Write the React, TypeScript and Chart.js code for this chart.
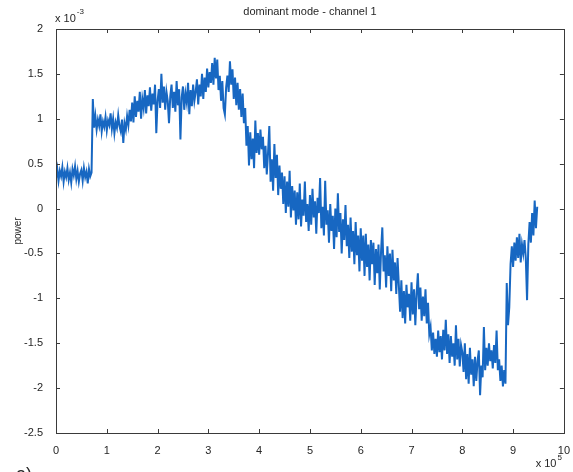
import React, { useEffect, useRef } from "react";
import { Chart, registerables } from "chart.js";

Chart.register(...registerables);

// ---- chart data ----
const chartTitle = "dominant mode - channel 1";
const yAxisLabel = "power";
const xExponent = "5"; // x axis values are x 10^5
const yExponent = "-3"; // y axis values are x 10^-3
const sampleStep = 0.025; // spacing of samples, in units of 10^5

const xTickValues = [0, 1, 2, 3, 4, 5, 6, 7, 8, 9, 10];
const yTickValues = [-2.5, -2, -1.5, -1, -0.5, 0, 0.5, 1, 1.5, 2];

// power, in units of 10^-3, one value every sampleStep
const powerValues = [
  0.34, 0.44, 0.31, 0.42, 0.36, 0.46, 0.30, 0.41, 0.35, 0.45,
  0.32, 0.40, 0.29, 0.44, 0.37, 0.47, 0.33, 0.42, 0.30, 0.39,
  0.43, 0.31, 0.45, 0.35, 0.41, 0.28, 0.44, 0.36, 0.40, 1.22,
  0.90, 1.03, 0.88, 0.99, 0.92, 1.05, 0.86, 0.97, 0.91, 1.02,
  0.87, 0.98, 0.93, 1.06, 0.89, 1.00, 0.84, 0.96, 0.90, 1.04,
  0.92, 0.86, 0.99, 0.73, 0.95, 0.88, 1.03, 0.93, 1.10, 0.97,
  1.18, 0.96, 1.25, 1.02, 1.20, 1.08, 1.30, 1.00, 1.22, 1.12,
  1.32, 1.06, 1.26, 1.14, 1.35, 1.09, 1.28, 1.16, 1.38, 0.84,
  1.20, 1.33, 1.12, 1.50, 1.18, 1.36, 1.10, 1.30, 1.20, 0.95,
  1.25, 1.38, 1.12, 1.30, 1.08, 1.42, 1.15, 1.33, 0.77, 1.24,
  1.36, 1.10, 1.28, 1.18, 1.40, 1.05, 1.32, 1.14, 1.38, 1.20,
  1.30, 1.44, 1.16, 1.38, 1.25, 1.50, 1.22, 1.46, 1.30, 1.56,
  1.35, 1.52, 1.40, 1.62, 1.38, 1.68, 1.45, 1.66, 1.32, 1.48,
  1.20, 1.42, 1.12, 1.05, 1.35, 1.48, 1.30, 1.64, 1.38, 1.55,
  1.22, 1.46, 1.15, 1.40, 1.10, 1.33, 1.02, 1.28, 0.95, 1.12,
  0.70, 0.92, 0.48, 0.85, 0.55, 0.78, 0.45, 0.98, 0.62, 0.84,
  0.60, 0.88, 0.66, 0.80, 0.45, 0.70, 0.38, 0.62, 0.92, 0.30,
  0.55, 0.20, 0.72, 0.34, 0.60, 0.15, 0.48, 0.22, 0.40, 0.05,
  0.36, -0.05, 0.30, 0.02, 0.42, -0.10, 0.25, -0.02, 0.20, -0.18,
  0.18, -0.12, 0.28, -0.20, 0.10, -0.08, 0.30, -0.15, 0.05, -0.25,
  0.15, -0.18, 0.22, -0.10, 0.08, -0.28, 0.12, -0.05, 0.34, -0.22,
  0.02, -0.30, 0.31, -0.18, -0.02, -0.38, 0.05, -0.25, -0.08, -0.45,
  0.00, -0.32, 0.17, -0.26, -0.05, -0.50, -0.12, -0.35, 0.04, -0.42,
  -0.18, -0.55, -0.10, -0.48, -0.25, -0.62, -0.15, -0.52, -0.30, -0.70,
  -0.22, -0.58, -0.30, -0.75, -0.28, -0.65, -0.40, -0.80, -0.35, -0.62,
  -0.38, -0.85, -0.45, -0.72, -0.40, -0.90, -0.48, -0.21, -0.70, -0.52,
  -0.88, -0.42, -0.75, -0.50, -0.92, -0.46, -0.80, -0.60, -0.95, -0.55,
  -0.85, -1.15, -0.80, -1.22, -0.92, -1.28, -0.85, -1.10, -0.95, -1.25,
  -0.82, -1.18, -0.90, -1.30, -0.95, -0.72, -1.12, -0.88, -1.25, -0.98,
  -1.20, -0.90, -1.28, -1.05, -1.40, -1.32, -1.58, -1.38, -1.62, -1.45,
  -1.65, -1.36, -1.60, -1.42, -1.68, -1.35, -1.58, -1.24, -1.62, -1.40,
  -1.72, -1.42, -1.65, -1.50, -1.75, -1.30, -1.68, -1.45, -1.76, -1.52,
  -1.60, -1.82, -1.50, -1.90, -1.62, -1.95, -1.55, -1.85, -1.68, -1.98,
  -1.65, -1.92, -1.70, -1.58, -2.08, -1.75, -1.88, -1.32, -1.80, -1.55,
  -1.75, -1.50, -1.70, -1.58, -1.78, -1.52, -1.72, -1.36, -1.80, -1.68,
  -1.92, -1.75, -1.98, -1.80, -1.95, -0.83, -1.30, -1.10, -0.62, -0.42,
  -0.65, -0.38, -0.58, -0.32, -0.55, -0.28, -0.60, -0.40, -0.50, -0.35,
  -0.55, -1.02, -0.40, -0.15, -0.38, -0.05, -0.30, 0.09, -0.22, 0.02,
];

const FONT = '"Liberation Sans", Arial, Helvetica, sans-serif';
const TEXT_COLOR = "#262626";
const FRAME_COLOR = "#3a3a3a";
const LINE_COLOR = "#1767c2";

const matlabFrame = {
  id: "matlabFrame",
  afterDraw(chart: any) {
    const { ctx, chartArea } = chart;
    const xs = chart.scales.x;
    const ys = chart.scales.y;
    const { left, right, top, bottom } = chartArea;
    ctx.save();
    // frame
    ctx.strokeStyle = FRAME_COLOR;
    ctx.lineWidth = 1;
    ctx.strokeRect(Math.round(left) + 0.5, Math.round(top) + 0.5, Math.round(right - left), Math.round(bottom - top));
    // inward ticks
    const tl = 4;
    ctx.beginPath();
    xTickValues.forEach((v) => {
      const px = Math.round(xs.getPixelForValue(v)) + 0.5;
      ctx.moveTo(px, bottom);
      ctx.lineTo(px, bottom - tl);
      ctx.moveTo(px, top);
      ctx.lineTo(px, top + tl);
    });
    yTickValues.forEach((v) => {
      const py = Math.round(ys.getPixelForValue(v)) + 0.5;
      ctx.moveTo(left, py);
      ctx.lineTo(left + tl, py);
      ctx.moveTo(right, py);
      ctx.lineTo(right - tl, py);
    });
    ctx.stroke();

    ctx.fillStyle = TEXT_COLOR;
    // title
    ctx.font = `11px ${FONT}`;
    ctx.textAlign = "center";
    ctx.textBaseline = "middle";
    ctx.fillText(chartTitle, (left + right) / 2, 12);

    // y exponent (top-left)
    ctx.textAlign = "left";
    ctx.font = `11px ${FONT}`;
    const base = "x 10";
    const wBase = ctx.measureText(base).width;
    ctx.fillText(base, left - 1, 19);
    ctx.font = `8px ${FONT}`;
    ctx.fillText(yExponent, left - 1 + wBase + 1, 12);

    // x exponent (bottom-right)
    ctx.font = `8px ${FONT}`;
    const wSup = ctx.measureText(xExponent).width;
    ctx.font = `11px ${FONT}`;
    const startX = right - 3 - wSup - wBase;
    ctx.fillText(base, startX, 464);
    ctx.font = `8px ${FONT}`;
    ctx.fillText(xExponent, startX + wBase + 1, 458);

    // y axis label
    ctx.font = `10px ${FONT}`;
    ctx.textAlign = "center";
    ctx.save();
    ctx.translate(18, (top + bottom) / 2);
    ctx.rotate(-Math.PI / 2);
    ctx.fillText(yAxisLabel, 0, 0);
    ctx.restore();

    // panel letter, cut by the bottom edge
    ctx.font = `18px ${FONT}`;
    ctx.textAlign = "left";
    ctx.textBaseline = "top";
    ctx.fillText("a)", 16, 466);
    ctx.restore();
  },
};

export default function App() {
  const canvasRef = useRef<HTMLCanvasElement | null>(null);

  useEffect(() => {
    const canvas = canvasRef.current;
    if (!canvas) return;
    const points = powerValues.map((v, i) => ({ x: i * sampleStep, y: v }));
    const chart = new Chart(canvas, {
      type: "line",
      data: {
        datasets: [
          {
            data: points,
            borderColor: LINE_COLOR,
            borderWidth: 2,
            pointRadius: 0,
            tension: 0,
            fill: false,
          },
        ],
      },
      options: {
        responsive: false,
        animation: false,
        events: [],
        layout: { padding: { left: 0, top: 29, right: 7, bottom: 0 } },
        plugins: {
          legend: { display: false },
          title: { display: false },
          tooltip: { enabled: false },
        },
        scales: {
          x: {
            type: "linear",
            min: 0,
            max: 10,
            grid: { display: false },
            border: { display: false },
            afterBuildTicks: (s: any) => {
              s.ticks = xTickValues.map((v) => ({ value: v }));
            },
            ticks: {
              autoSkip: false,
              maxRotation: 0,
              padding: 3,
              color: TEXT_COLOR,
              font: { family: FONT, size: 11 },
              callback: (v: any) => String(v),
            },
            afterFit: (s: any) => {
              s.height = 39;
            },
          },
          y: {
            type: "linear",
            min: -2.5,
            max: 2,
            grid: { display: false },
            border: { display: false },
            afterBuildTicks: (s: any) => {
              s.ticks = yTickValues.map((v) => ({ value: v }));
            },
            ticks: {
              autoSkip: false,
              padding: 5,
              color: TEXT_COLOR,
              font: { family: FONT, size: 11 },
              callback: (v: any) => String(v),
            },
            afterFit: (s: any) => {
              s.width = 56;
            },
          },
        },
      },
      plugins: [matlabFrame],
    });
    return () => chart.destroy();
  }, []);

  return (
    <div style={{ position: "absolute", left: 0, top: 0, width: 573, height: 472, background: "#ffffff" }}>
      <canvas ref={canvasRef} width={573} height={472} style={{ display: "block" }} />
    </div>
  );
}
